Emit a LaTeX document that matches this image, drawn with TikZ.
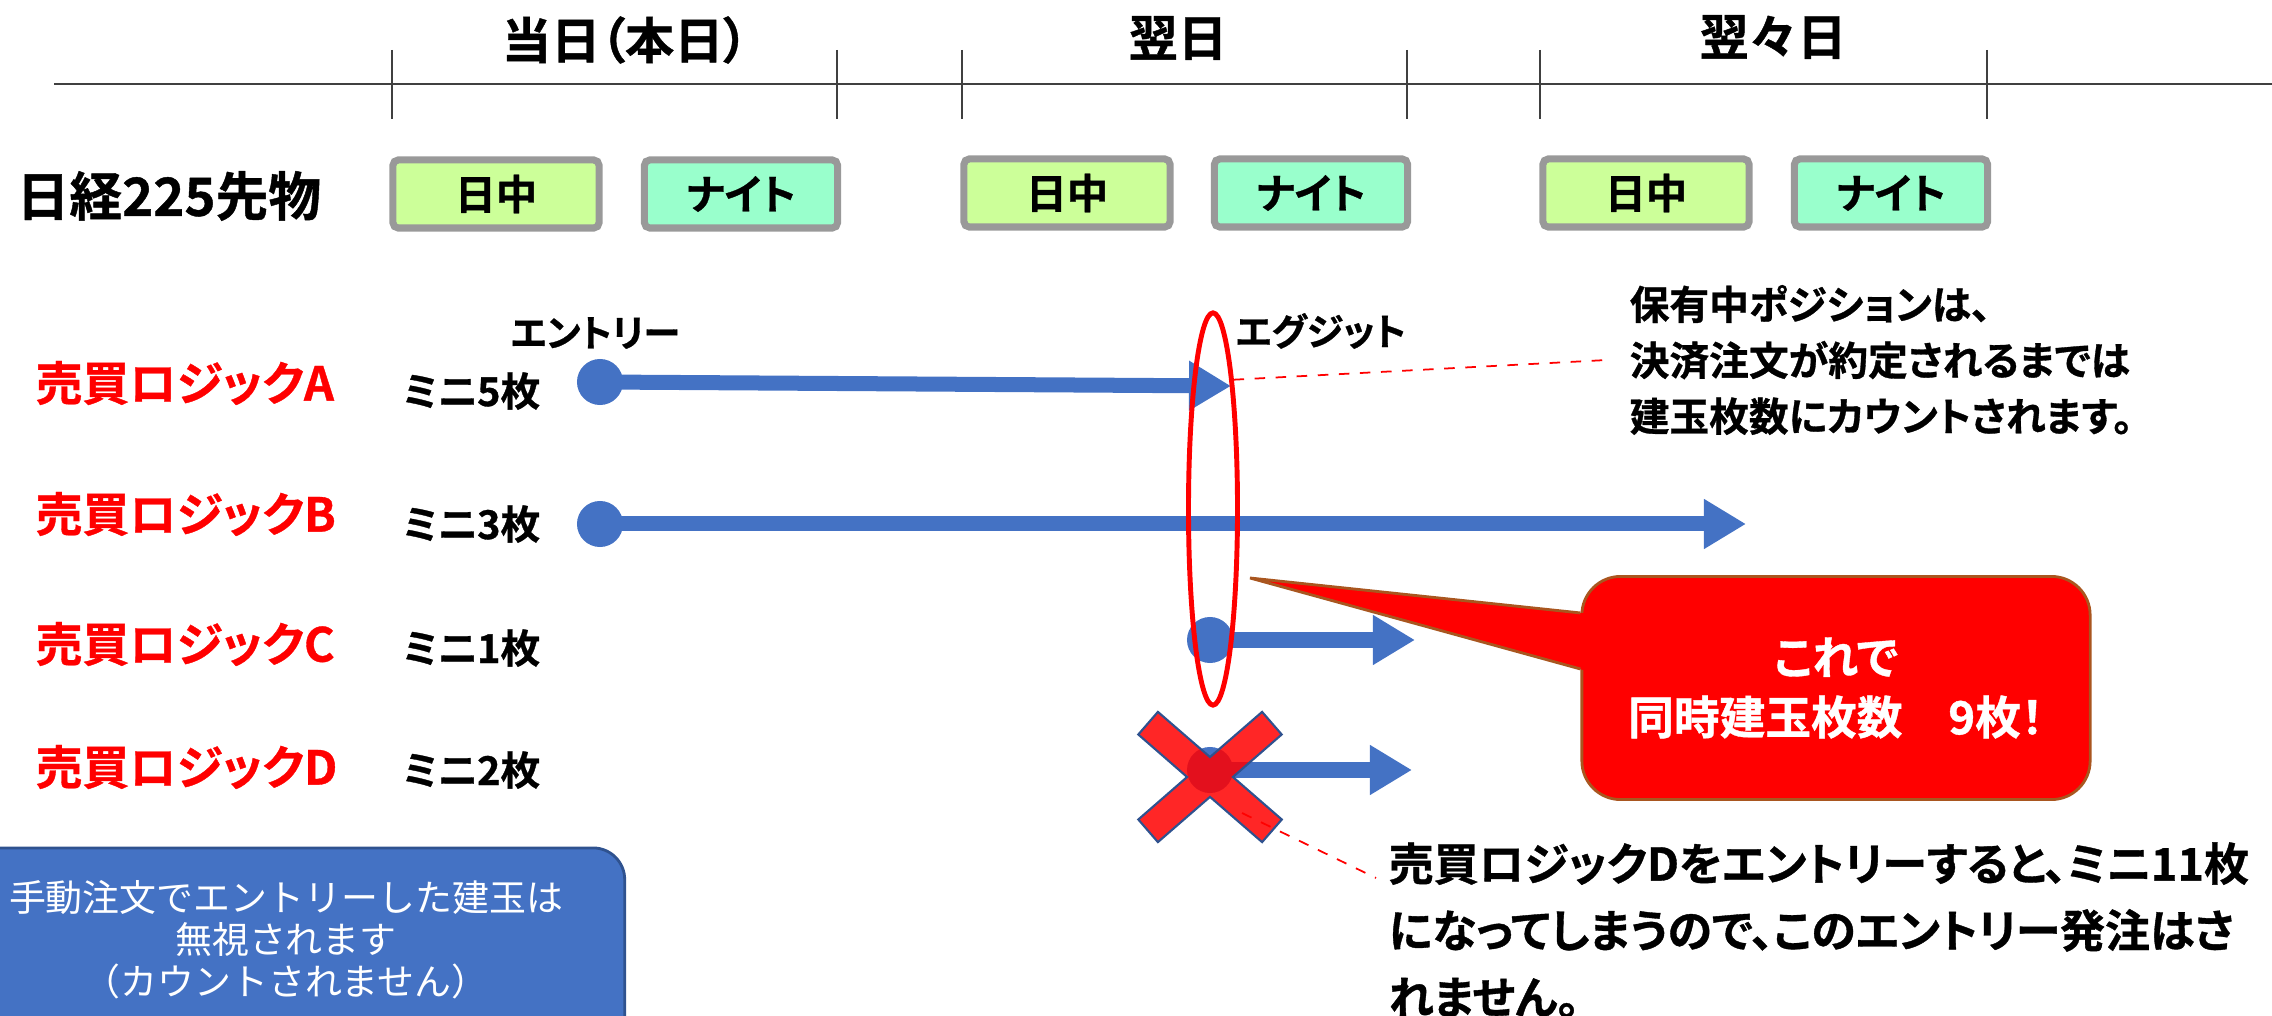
\documentclass[tikz,border=0pt]{standalone}
\usepackage{fontspec}
\setmainfont{Noto Sans CJK JP}
\newfontfamily\jpbold{Noto Sans CJK JP Bold}[RawFeature=+palt, FakeBold=0.8]
\usetikzlibrary{positioning, arrows.meta, shapes.geometric}

\definecolor{sellred}{HTML}{FF0000}
\definecolor{flowblue}{HTML}{4472C4}
\definecolor{edgeblue}{HTML}{2F528F}
\definecolor{dayfill}{HTML}{CCFF99}
\definecolor{nightfill}{HTML}{99FFCC}
\definecolor{boxgray}{HTML}{999999}
\definecolor{axisgray}{HTML}{404040}
\definecolor{calloutedge}{HTML}{A9561F}

\begin{document}
\begin{tikzpicture}[x=0.01cm, y=-0.01cm,
    head/.style={inner sep=0pt, font={\jpbold\fontsize{14}{17}\selectfont}},
    session/.style={draw=boxgray, line width=2pt, rounded corners=1.5pt, inner sep=0pt,
        minimum height=0.68cm, font={\jpbold\fontsize{11.7}{14}\selectfont}},
    day/.style={session, fill=dayfill, minimum width=2.06cm},
    night/.style={session, fill=nightfill, minimum width=1.93cm},
    logic/.style={anchor=west, inner sep=0pt, text=sellred, font={\jpbold\fontsize{13.3}{16}\selectfont}},
    lot/.style={anchor=west, inner sep=0pt, font={\jpbold\fontsize{11.3}{14}\selectfont}},
    tag/.style={anchor=west, inner sep=0pt, font={\jpbold\fontsize{10.6}{13}\selectfont}},
    note/.style={anchor=west, align=left, inner sep=0pt, font={\jpbold\fontsize{11.3}{15.9}\selectfont}},
    dot/.style={circle, fill=flowblue, minimum size=0.46cm, inner sep=0pt},
    flow/.style={draw=flowblue, line width=0.15cm, -{Triangle[length=0.42cm, width=0.47cm]}},
    ring/.style={ellipse, draw=sellred, line width=1.4pt, minimum width=0.49cm, minimum height=3.92cm, inner sep=0pt},
    leader/.style={draw=sellred, dashed, line width=0.5pt},
    callout/.style={rectangle, rounded corners=11pt, fill=sellred, draw=calloutedge, line width=0.8pt,
        minimum width=5.08cm, minimum height=2.23cm, align=center, text=white,
        font={\jpbold\fontsize{13}{17}\selectfont}},
    manualbox/.style={rectangle, rounded corners=9pt, fill=flowblue, draw=edgeblue, line width=0.8pt,
        minimum width=7.35cm, minimum height=2.8cm},
    manualtext/.style={align=center, text=white, inner sep=0pt, font={\fontsize{10.5}{12}\selectfont}}]
    \useasboundingbox (0,0) rectangle (2272,1016);
    \clip (0,0) rectangle (2272,1016);

    % timeline
    \draw[axisgray, line width=0.8pt] (54,84) -- (2272,84);
    \draw[axisgray, line width=0.4pt] (392,50) -- (392,119) (837,50) -- (837,119)
        (962,50) -- (962,119) (1407,50) -- (1407,119)
        (1540,50) -- (1540,119) (1987,50) -- (1987,119);
    \node[head] (today) at (625,40) {当日（本日）};
    \node[head] (next) at (1178,38) {翌日};
    \node[head] (after) at (1773,37) {翌々日};

    % sessions
    \node[head, anchor=west, font={\jpbold\fontsize{15}{17}\selectfont}] (nk) at (16,196) {日経225先物};
    \node[day] (s1) at (496,194) {日中};
    \node[night] (s2) at (741,194) {ナイト};
    \node[day] (s3) at (1067,193) {日中};
    \node[night] (s4) at (1311,193) {ナイト};
    \node[day] (s5) at (1646,193) {日中};
    \node[night] (s6) at (1891,193) {ナイト};

    % logics
    \node[logic] (la) at (35,383) {売買ロジックA};
    \node[logic] (lb) at (35,514) {売買ロジックB};
    \node[logic] (lc) at (35,644) {売買ロジックC};
    \node[logic] (ld) at (35,767) {売買ロジックD};
    \node[lot] (ma) at (402,391) {ミニ5枚};
    \node[lot] (mb) at (402,524) {ミニ3枚};
    \node[lot] (mc) at (402,648) {ミニ1枚};
    \node[lot] (md) at (402,770) {ミニ2枚};
    \node[tag] (entry) at (510,333) {エントリー};
    \node[tag] (exit) at (1235,331) {エグジット};

    % positions
    \node[dot] (a0) at (600,382) {};
    \node[dot] (b0) at (600,524) {};
    \node[dot] (c0) at (1210,640) {};
    \node[dot] (d0) at (1210,770) {};
    \coordinate (a1) at (1231,386);
    \coordinate (b1) at (1746,524);
    \coordinate (c1) at (1415,640);
    \coordinate (d1) at (1412,770);
    \draw[flow] (a0.center) -- (a1);
    \draw[flow] (b0.center) -- (b1);
    \draw[flow] (c0.center) -- (c1);
    \draw[flow] (d0.center) -- (d1);

    % cross over D
    \begin{scope}[shift={(1210,777)}]
        \filldraw[fill=sellred, fill opacity=0.85, draw=edgeblue, line width=0.6pt]
            (0,-19.9) -- (52.1,-65.1) -- (71.7,-42.5) -- (22.9,0) -- (71.8,42.5) -- (52.1,65.1)
            -- (0,19.9) -- (-52.1,65.1) -- (-71.7,42.5) -- (-22.9,0) -- (-71.7,-42.5) -- (-52.1,-65.1) -- cycle;
    \end{scope}

    \node[ring] (ring) at (1213,509) {};

    % notes
    \node[note] (hold) at (1629,360) {保有中ポジションは、\\決済注文が約定されるまでは\\建玉枚数にカウントされます。};
    \draw[leader] (ring.81) -- ([xshift=-0.22cm]hold.west);

    \node[note, font={\jpbold\fontsize{12.8}{19}\selectfont}] (warn) at (1388,930)
        {売買ロジックDをエントリーすると、ミニ11枚\\になってしまうので、このエントリー発注はさ\\れません。};
    \coordinate (xarm) at (1242,813);
    \coordinate (xend) at (1376,878);
    \draw[leader] (xarm) -- (xend);

    % callout
    \node[callout] (call) at (1836,688) {これで\\同時建玉枚数　9枚！};
    \coordinate (tip) at (1250,578);
    \fill[sellred] (tip) -- ([xshift=0.1cm, yshift=0.74cm]call.west) -- ([xshift=0.1cm, yshift=0.16cm]call.west) -- cycle;
    \draw[calloutedge, line width=0.8pt] ([yshift=0.75cm]call.west) -- (tip) -- ([yshift=0.19cm]call.west);

    % manual orders
    \node[manualbox] (manual) at (257,988) {};
    \node[manualtext] (mtext) at (286,940) {手動注文でエントリーした建玉は\\無視されます\\（カウントされません）};
\end{tikzpicture}
\end{document}
